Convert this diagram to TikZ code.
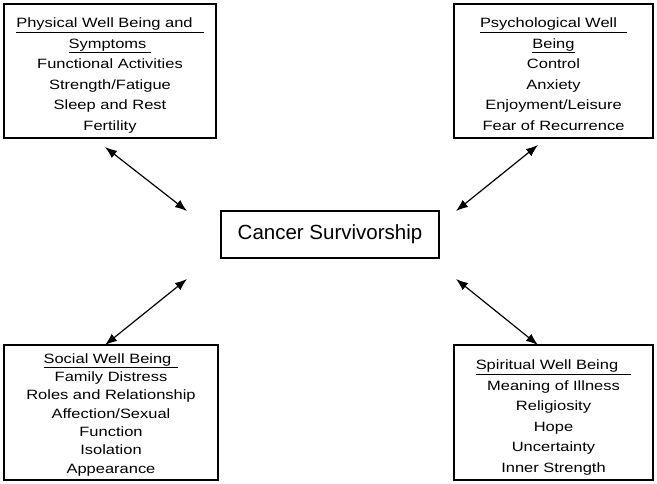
\documentclass[tikz,border=0pt]{standalone}
\usepackage{fontspec}
\setmainfont{Liberation Sans}
\newfontfamily\boxfont{Liberation Sans}[FakeStretch=1.22]
\usetikzlibrary{arrows.meta,positioning}
\newcommand\topgap[1]{\rule{0pt}{#1}}
\tikzset{
	block/.style = {draw, line width=1.3pt, fill=white, rectangle, align=center, inner sep=0pt,
		minimum width=212pt, minimum height=134pt, font=\boxfont\fontsize{13.5}{20.5}\selectfont},
	core/.style  = {draw, line width=1.3pt, fill=white, rectangle, inner sep=0pt,
		minimum width=218pt, minimum height=47pt, font=\fontsize{20.5}{24}\selectfont},
	tmp/.style   = {coordinate},
	link/.style  = {<->, line width=1.2pt}
}

\begin{document}
\begin{tikzpicture}[x=1pt,y=-1pt,>={Latex[length=12pt,width=9pt]}]
		\useasboundingbox (0,0) rectangle (657,483);
		\node [core] (cs) at (330,234.5) {Cancer Survivorship};
		\node [block] (phys) at (110,71) {\topgap{18.5pt}\underline{Physical Well Being and\hspace{11pt}}\\
			\underline{Symptoms\hspace{5pt}}\\ Functional Activities\\ Strength/Fatigue\\
			Sleep and Rest\\ Fertility};
		\node [block, minimum width=199pt] (psych) at (553.5,71) {\topgap{16pt}\underline{Psychological Well\hspace{10pt}}\\
			\underline{Being}\\ Control\\ Anxiety\\ Enjoyment/Leisure\\ Fear of Recurrence};
		\node [block, minimum width=214pt, minimum height=135pt,
			font=\boxfont\fontsize{13.5}{18.3}\selectfont] (soc) at (111,412.5) {\topgap{14pt}\underline{Social Well Being\hspace{7pt}}\\
			Family Distress\\ Roles and Relationship\\ Affection/Sexual\\ Function\\ Isolation\\ Appearance};
		\node [block, minimum width=199pt, minimum height=135pt] (spir) at (553.5,412.5) {\topgap{20pt}\underline{Spiritual Well Being\hspace{13pt}}\\
			Meaning of Illness\\ Religiosity\\ Hope\\ Uncertainty\\ Inner Strength};

		% free ends of the arrows
		\node [tmp] (a1) at (105,147) {};
		\node [tmp] (b1) at (187,211) {};
		\node [tmp] (a2) at (538,145) {};
		\node [tmp] (b2) at (456,211) {};
		\node [tmp] (a3) at (105,345) {};
		\node [tmp] (b3) at (187,279) {};
		\node [tmp] (a4) at (538,345) {};
		\node [tmp] (b4) at (456,279) {};

		\draw [link] (a1) -- (b1);
		\draw [link] (a2) -- (b2);
		\draw [link] (a3) -- (b3);
		\draw [link] (a4) -- (b4);
	\end{tikzpicture}
\end{document}
